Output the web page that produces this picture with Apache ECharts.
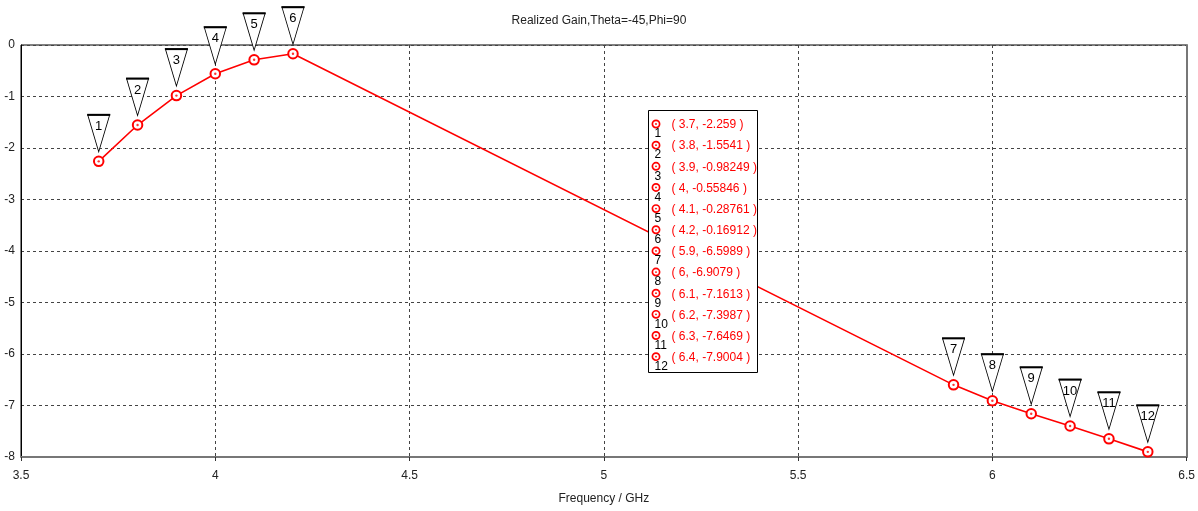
<!DOCTYPE html>
<html>
<head>
<meta charset="utf-8">
<script src="https://cdn.jsdelivr.net/npm/echarts@6/dist/echarts.min.js"></script>
<style>
  html, body { margin: 0; padding: 0; background: #fff; }
  #chart { width: 1198px; height: 511px; }
</style>
</head>
<body>
<div id="chart"></div>
<script>
// Marker readouts: frequency (GHz) and realized gain (dB)
const freq = [3.7, 3.8, 3.9, 4, 4.1, 4.2, 5.9, 6, 6.1, 6.2, 6.3, 6.4];
const gain = [-2.259, -1.5541, -0.98249, -0.55846, -0.28761, -0.16912,
              -6.5989, -6.9079, -7.1613, -7.3987, -7.6469, -7.9004];
const markerIds = [1, 2, 3, 4, 5, 6, 7, 8, 9, 10, 11, 12];

const titleText = 'Realized Gain,Theta=-45,Phi=90';
const xName = 'Frequency / GHz';

const FONT = 'Liberation Sans';
const RED = '#ff0000';

const points = freq.map((x, i) => [x, gain[i]]);

// Marker readout box, drawn on top of the curve
const rowH = 21.15;
const ZBOX = 200;
const boxChildren = [{
  type: 'rect', z: ZBOX,
  shape: { x: 0, y: 0, width: 109, height: 262 },
  style: { fill: '#fff', stroke: '#000', lineWidth: 1 }
}];
markerIds.forEach((id, i) => {
  const cy = 13.5 + i * rowH;
  boxChildren.push(
    { type: 'circle', z: ZBOX + 1, shape: { cx: 7.5, cy: cy, r: 3.6 },
      style: { fill: '#fff', stroke: RED, lineWidth: 1.7 } },
    { type: 'circle', z: ZBOX + 2, shape: { cx: 7.5, cy: cy, r: 0.9 },
      style: { fill: RED } },
    { type: 'text', z: ZBOX + 2, x: 6, y: cy + 10,
      style: { text: String(id), fill: '#000', font: '12px ' + FONT,
               textAlign: 'left', textVerticalAlign: 'middle' } },
    { type: 'text', z: ZBOX + 2, x: 23, y: cy + 1,
      style: { text: '( ' + freq[i] + ', ' + gain[i] + ' )', fill: RED,
               font: '12px ' + FONT, textAlign: 'left', textVerticalAlign: 'middle' } }
  );
});

const chart = echarts.init(document.getElementById('chart'), null, { renderer: 'canvas' });

const option = {
  animation: false,
  backgroundColor: '#fff',
  textStyle: { fontFamily: FONT },
  title: {
    text: titleText,
    left: 'center',
    top: 10,
    textStyle: { fontFamily: FONT, fontSize: 12, fontWeight: 'normal', color: '#222' }
  },
  grid: {
    left: 21, right: 11, top: 45, bottom: 54,
    show: true, borderColor: '#000', borderWidth: 1, backgroundColor: 'transparent'
  },
  xAxis: [{
    type: 'value',
    min: 3.5, max: 6.5, interval: 0.5,
    name: xName,
    nameLocation: 'middle',
    nameGap: 36,
    nameTextStyle: { fontFamily: FONT, fontSize: 12, color: '#222' },
    axisLine: { show: true, onZero: false, lineStyle: { color: '#777', width: 2 } },
    axisTick: { show: true, length: 4, lineStyle: { color: '#333' } },
    axisLabel: { fontFamily: FONT, fontSize: 12, color: '#222', margin: 13 },
    splitLine: { show: true, lineStyle: { color: '#444', type: [3, 3], width: 1 } }
  }],
  yAxis: [{
    type: 'value',
    min: -8, max: 0, interval: 1,
    axisLine: { show: true, onZero: false, lineStyle: { color: '#000', width: 1 } },
    axisTick: { show: false },
    axisLabel: { fontFamily: FONT, fontSize: 12, color: '#222', margin: 6 },
    splitLine: { show: true, lineStyle: { color: '#444', type: [3, 3], width: 1 } }
  }, {
    type: 'value',
    position: 'right',
    min: -8, max: 0, interval: 1,
    axisLine: { show: true, onZero: false, lineStyle: { color: '#777', width: 2 } },
    axisTick: { show: false },
    axisLabel: { show: false },
    splitLine: { show: false }
  }],
  series: [{
    type: 'line',
    data: points,
    symbol: 'circle',
    symbolSize: 9.5,
    lineStyle: { color: RED, width: 1.6 },
    itemStyle: { color: '#fff', borderColor: RED, borderWidth: 2 },
    z: 3,
    markPoint: {
      symbol: 'path://M0,0L22,0L11,37Z',
      symbolSize: [22, 37],
      symbolKeepAspect: false,
      symbolOffset: [0, -28],
      itemStyle: { color: '#fff', borderColor: '#000', borderWidth: 1 },
      label: {
        show: true, position: 'inside', offset: [0, -7],
        color: '#000', fontFamily: FONT, fontSize: 13,
        formatter: p => String(p.value)
      },
      data: points.map((p, i) => ({ coord: p, value: markerIds[i] }))
    }
  }, {
    // centre dots of the point markers
    type: 'scatter',
    data: points,
    symbol: 'circle',
    symbolSize: 2.4,
    itemStyle: { color: RED },
    z: 4,
    silent: true,
    // heavier top edge of the flag markers
    markPoint: {
      symbol: 'rect',
      symbolSize: [23, 2],
      symbolOffset: [0, -46.5],
      itemStyle: { color: '#000' },
      label: { show: false },
      data: points.map(p => ({ coord: p }))
    }
  }],
  graphic: [{
    type: 'group',
    left: 648,
    top: 110,
    z: ZBOX,
    children: boxChildren
  }]
};

chart.setOption(option);
</script>
</body>
</html>
